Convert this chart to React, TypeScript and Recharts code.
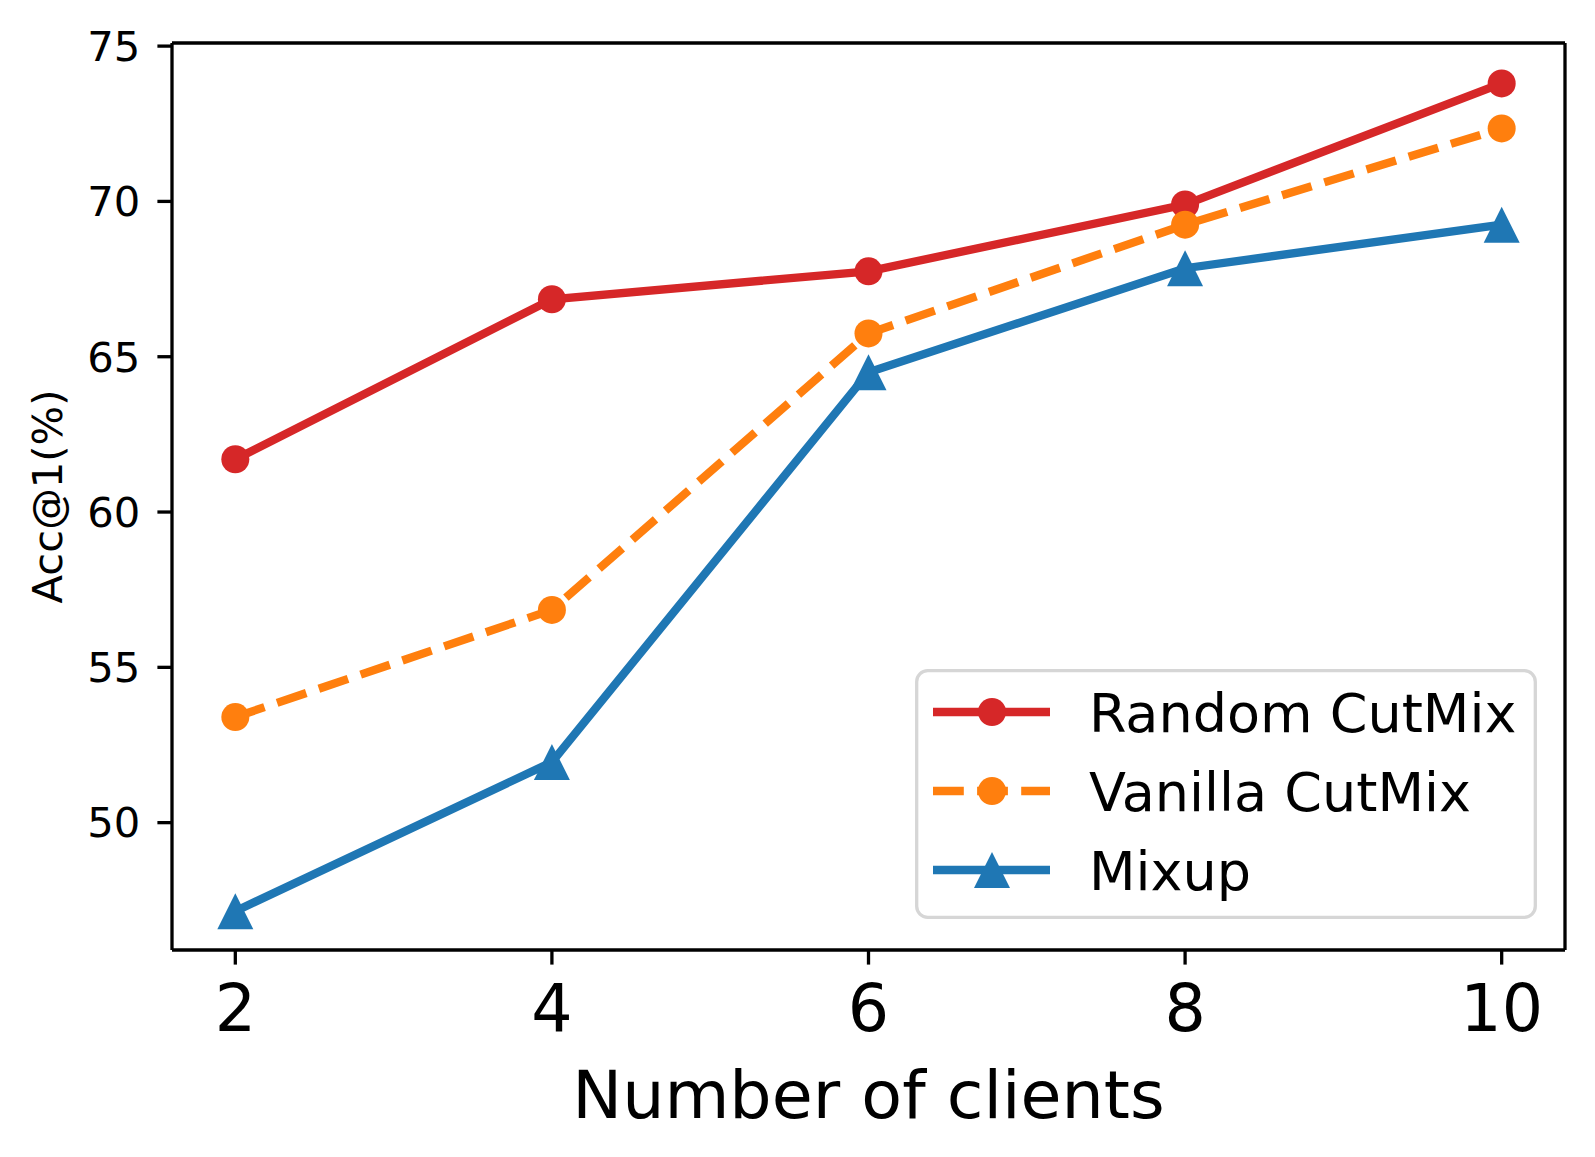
import React from 'react';
import { LineChart, Line, XAxis, YAxis, Legend, ReferenceLine, Label } from 'recharts';

const CLIENTS = [2, 4, 6, 8, 10];
const RANDOM_CUTMIX = [61.7, 66.85, 67.75, 69.9, 73.8];
const VANILLA_CUTMIX = [53.4, 56.85, 65.75, 69.25, 72.35];
const MIXUP = [47.15, 51.95, 64.5, 67.85, 69.25];
const Y_TICKS = [50, 55, 60, 65, 70, 75];
const X_DOMAIN = [1.6, 10.4];
const Y_DOMAIN = [45.9, 75.1];

const SERIES = [
  { key: 'random', name: 'Random CutMix', color: '#d62728', values: RANDOM_CUTMIX, dash: undefined, marker: 'circle' },
  { key: 'vanilla', name: 'Vanilla CutMix', color: '#ff7f0e', values: VANILLA_CUTMIX, dash: '30.8 13.3', marker: 'circle' },
  { key: 'mixup', name: 'Mixup', color: '#1f77b4', values: MIXUP, dash: undefined, marker: 'triangle' },
];

const data = CLIENTS.map((c, i) => {
  const row: any = { clients: c };
  SERIES.forEach((s) => {
    row[s.key] = s.values[i];
  });
  return row;
});

const FONT = 'DejaVu Sans, sans-serif';
const LW = 8.3;

function Marker({ cx, cy, color, type }: { cx: number; cy: number; color: string; type: string }) {
  if (type === 'triangle') {
    return <polygon points={`${cx},${cy - 18} ${cx - 18},${cy + 18} ${cx + 18},${cy + 18}`} fill={color} />;
  }
  return <circle cx={cx} cy={cy} r={14} fill={color} />;
}

const makeDot = (color: string, type: string) => (props: any) => {
  if (props.cx == null || props.cy == null) return <g key={props.index} />;
  return (
    <g key={`${type}-${props.index}`}>
      <Marker cx={props.cx} cy={props.cy} color={color} type={type} />
    </g>
  );
};

const XLabel = (props: any) => {
  const vb = props.viewBox;
  return (
    <text x={vb.x + vb.width / 2} y={vb.y + 168} textAnchor="middle" fontSize={66.7} fontFamily={FONT} fill="#000">
      Number of clients
    </text>
  );
};

const YLabel = (props: any) => {
  const vb = props.viewBox;
  const x = vb.x + 47;
  const y = vb.y + vb.height / 2;
  return (
    <text
      x={x}
      y={y}
      transform={`rotate(-90 ${x} ${y})`}
      textAnchor="middle"
      dominantBaseline="central"
      fontSize={41.7}
      fontFamily={FONT}
      fill="#000"
    >
      Acc@1(%)
    </text>
  );
};

const renderLegend = () => {
  const rowY = [43, 122, 201];
  return (
    <svg width={622} height={250} style={{ display: 'block' }}>
      <rect x={1.7} y={1.7} width={618.6} height={246.6} rx={11} fill="#fff" fillOpacity={0.8} stroke="#d6d6d6" strokeWidth={3.3} />
      {SERIES.map((s, i) => (
        <g key={s.key}>
          <line x1={18} x2={135} y1={rowY[i]} y2={rowY[i]} stroke={s.color} strokeWidth={LW} strokeDasharray={s.dash} />
          <Marker cx={77} cy={rowY[i]} color={s.color} type={s.marker} />
          <text x={174} y={rowY[i] + 20} fontSize={54} fontFamily={FONT} fill="#000">
            {s.name}
          </text>
        </g>
      ))}
    </svg>
  );
};

export default function App() {
  return (
    <div style={{ position: 'absolute', left: 0, top: 0, width: 1595, height: 1157, background: '#fff' }}>
      <LineChart width={1595} height={1157} data={data} margin={{ top: 43, right: 30, bottom: 0, left: 0 }}>
        <XAxis
          type="number"
          dataKey="clients"
          domain={X_DOMAIN}
          ticks={CLIENTS}
          allowDataOverflow
          height={207}
          tickSize={14.6}
          tickMargin={20}
          axisLine={{ stroke: '#000', strokeWidth: 3.3 }}
          tickLine={{ stroke: '#000', strokeWidth: 3.3 }}
          tick={{ fill: '#000', fontSize: 65, fontFamily: FONT }}
          label={<Label content={XLabel} />}
        />
        <YAxis
          type="number"
          domain={Y_DOMAIN}
          ticks={Y_TICKS}
          allowDataOverflow
          width={172}
          tickSize={14.6}
          tickMargin={17}
          axisLine={{ stroke: '#000', strokeWidth: 3.3 }}
          tickLine={{ stroke: '#000', strokeWidth: 3.3 }}
          tick={{ fill: '#000', fontSize: 41.7, fontFamily: FONT }}
          label={<Label content={YLabel} />}
        />
        <ReferenceLine y={Y_DOMAIN[1]} stroke="#000" strokeWidth={3.3} />
        <ReferenceLine x={X_DOMAIN[1]} stroke="#000" strokeWidth={3.3} />
        {SERIES.map((s) => (
          <Line
            key={s.key}
            type="linear"
            dataKey={s.key}
            name={s.name}
            stroke={s.color}
            strokeWidth={LW}
            strokeDasharray={s.dash}
            dot={makeDot(s.color, s.marker)}
            activeDot={false}
            isAnimationActive={false}
          />
        ))}
        <Legend
          layout="vertical"
          align="center"
          verticalAlign="middle"
          content={renderLegend}
          wrapperStyle={{ left: 915, top: 669, width: 622, height: 250 }}
        />
      </LineChart>
    </div>
  );
}
